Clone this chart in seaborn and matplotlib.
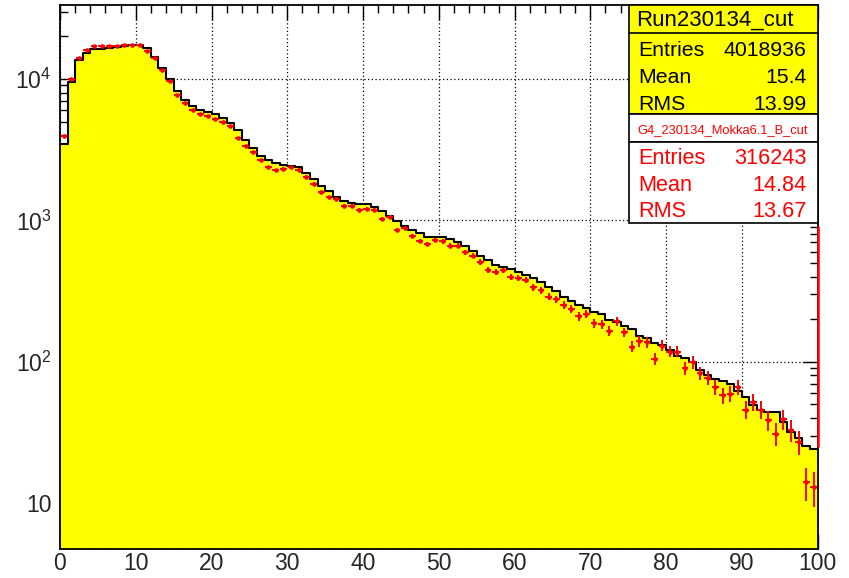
import numpy as np
import pandas as pd
import matplotlib
matplotlib.use("Agg")
import matplotlib.pyplot as plt
import seaborn as sns
from matplotlib.patches import Rectangle
from matplotlib.lines import Line2D
from matplotlib.ticker import MultipleLocator, LogLocator, FuncFormatter, NullFormatter

# ---- histogram contents: 100 bins of width 1 from 0 to 100 ----
n_bins = 100
x_range = (0, 100)

data_counts = [
    3455, 9475, 13550, 15340, 16300, 16300, 16640, 16900, 17200, 17500,
    17300, 16500, 14380, 12020, 10000, 8230, 7050, 6470, 6080, 5850,
    5660, 5330, 4910, 4330, 3690, 3240, 2870, 2650, 2550, 2455,
    2430, 2375, 2160, 1955, 1754, 1608, 1458, 1373, 1323, 1302,
    1302, 1240, 1173, 1081, 991, 910, 857, 820, 768, 768,
    765, 736, 697, 653, 602, 561, 520, 480, 467, 454,
    428, 410, 388, 366, 339, 314, 289, 270, 251, 239,
    224, 218, 198, 191, 178, 170, 153, 147, 136, 132,
    120, 109, 106, 99.5, 88, 81, 76, 73, 70, 62.4,
    56, 49.7, 45.3, 43.8, 43.8, 37.2, 31.8, 28.9, 25.5, 24.3,
]

mc_counts = [
    3980, 10000, 14000, 16030, 17100, 17100, 17200, 17200, 17500, 17500,
    17300, 15850, 14070, 11580, 9730, 7740, 6770, 6020, 5670, 5450,
    5240, 4940, 4680, 3850, 3360, 3050, 2660, 2375, 2275, 2325,
    2375, 2285, 2040, 1812, 1582, 1458, 1420, 1273, 1273, 1192,
    1200, 1180, 1030, 1054, 853, 881, 773, 716, 682, 728,
    710, 660, 660, 596, 563, 509, 445, 430, 442, 397,
    393, 380, 335, 319, 288, 277, 251, 235, 209, 218,
    188, 185, 166, 193, 161, 128, 139, 137, 105, 130,
    118, 118, 90, 98.9, 83, 76.7, 66.3, 57.8, 59.4, 65.8,
    45.8, 51.9, 45.8, 38.5, 31, 39.4, 32.7, 27.1, 14.0, 13.0,
]

# vertical extent of the red segment drawn on the upper edge of the range
edge_span = [25, 910]

data_name = "Run230134_cut"
data_stats = [("Entries", "4018936"), ("Mean", "15.4"), ("RMS", "13.99")]
mc_name = "G4_230134_Mokka6.1_B_cut"
mc_stats = [("Entries", "316243"), ("Mean", "14.84"), ("RMS", "13.67")]

# ---- style ----
sns.set_style("ticks")
plt.rcParams["font.family"] = ["Liberation Sans", "DejaVu Sans"]
plt.rcParams["mathtext.default"] = "regular"

W, H = 849, 578
fig = plt.figure(figsize=(W / 100, H / 100), dpi=100)
fig.patch.set_facecolor("white")

ax_l, ax_r, ax_t, ax_b = 60, 817.5, 5.3, 549
ax = fig.add_axes([ax_l / W, 1 - ax_b / H, (ax_r - ax_l) / W, (ax_b - ax_t) / H])

width = (x_range[1] - x_range[0]) / n_bins
centers = x_range[0] + width * (np.arange(n_bins) + 0.5)
df = pd.DataFrame({"x": centers, "data": data_counts, "mc": mc_counts})

# filled data histogram and its outline
sns.histplot(data=df, x="x", weights="data", bins=n_bins, binrange=x_range,
             element="step", fill=True, color="#ffff00", alpha=1, linewidth=0,
             ax=ax, zorder=2)
sns.histplot(data=df, x="x", weights="data", bins=n_bins, binrange=x_range,
             element="step", fill=False, color="black", linewidth=1.5,
             ax=ax, zorder=3)

# simulation points with Poisson errors
mc_arr = np.asarray(mc_counts, dtype=float)
ax.errorbar(centers, mc_arr, yerr=np.sqrt(mc_arr), xerr=0.45, fmt="none",
            ecolor="#ff0000", elinewidth=1.4, capsize=0, zorder=4)
sns.scatterplot(data=df, x="x", y="mc", color="#ff0000", s=11, linewidth=0,
                ax=ax, zorder=5)

ax.vlines(x_range[1], edge_span[0], edge_span[1], color="#ff0000", lw=1.8,
          zorder=6, clip_on=False)

ax.set_yscale("log")
ax.set_xlim(*x_range)
ax.set_ylim(4.73, 33200)
ax.set_xlabel("")
ax.set_ylabel("")

ax.xaxis.set_major_locator(MultipleLocator(10))
ax.xaxis.set_minor_locator(MultipleLocator(2))
ax.yaxis.set_major_locator(LogLocator(base=10))
ax.yaxis.set_minor_locator(LogLocator(base=10, subs=np.arange(2, 10)))
ax.yaxis.set_minor_formatter(NullFormatter())


def decade_label(v, pos):
    e = int(round(np.log10(v)))
    if e == 1:
        return "10"
    return r"$10^{%d}$" % e


ax.yaxis.set_major_formatter(FuncFormatter(decade_label))
ax.xaxis.set_major_formatter(FuncFormatter(lambda v, p: "%d" % v))

ax.tick_params(which="both", direction="in", top=True, right=True,
               color="black", width=1.0, labelsize=16.5)
ax.tick_params(which="major", length=11)
ax.tick_params(which="minor", length=6)
ax.tick_params(axis="y", which="major", pad=6)
ax.tick_params(axis="x", which="major", pad=2.5)
ax.grid(True, which="major", color="black", linestyle=(0, (1, 2)), linewidth=0.9)
ax.set_axisbelow(True)
for s in ax.spines.values():
    s.set_linewidth(1.3)
    s.set_color("black")
    s.set_zorder(5.5)


# ---- statistics boxes (pixel layout converted to figure fraction) ----
def fx(px):
    return px / W


def fy(py):
    return 1 - py / H


def box(x0, y0, x1, y1, face):
    fig.add_artist(Rectangle((fx(x0), fy(y1)), fx(x1) - fx(x0), fy(y0) - fy(y1),
                             transform=fig.transFigure, facecolor=face,
                             edgecolor="black", linewidth=1.2, zorder=10))


bx0, bx1 = 628.7, 817.5
box(bx0, 5.3, bx1, 114.3, "#ffff00")
fig.add_artist(Line2D([fx(bx0), fx(bx1)], [fy(33.3), fy(33.3)],
                      transform=fig.transFigure, color="black", lw=1.2, zorder=11))
box(bx0, 114.3, bx1, 141.7, "white")
box(bx0, 141.7, bx1, 222.7, "white")

fig.text(fx(715), fy(26), data_name, ha="center", va="baseline",
         fontsize=16, color="black", zorder=12)
for (lab, val), base in zip(data_stats, [56, 83.3, 110]):
    fig.text(fx(638.3), fy(base), lab, ha="left", va="baseline",
             fontsize=15.3, color="black", zorder=12)
    fig.text(fx(806.7), fy(base), val, ha="right", va="baseline",
             fontsize=15.3, color="black", zorder=12)

fig.text(fx(722.5), fy(132.7), mc_name, ha="center", va="baseline",
         fontsize=9.3, color="#ff0000", zorder=12)
for (lab, val), base in zip(mc_stats, [164.3, 191, 216.7]):
    fig.text(fx(638.3), fy(base), lab, ha="left", va="baseline",
             fontsize=15.6, color="#ff0000", zorder=12)
    fig.text(fx(806.7), fy(base), val, ha="right", va="baseline",
             fontsize=15.6, color="#ff0000", zorder=12)

fig.savefig("out.png", dpi=100)
